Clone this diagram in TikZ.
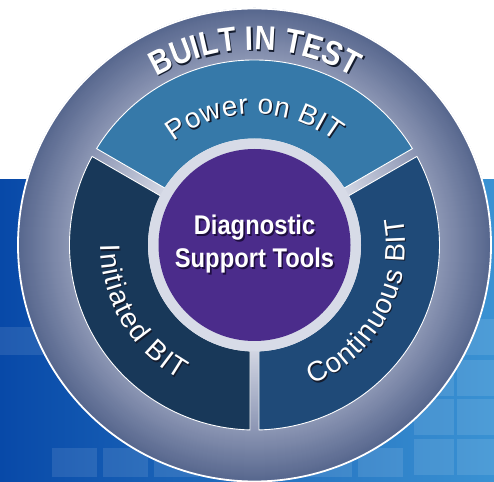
\documentclass[tikz,border=0pt]{standalone}
\usepackage{fontspec}
\setmainfont{Liberation Sans}
\newfontfamily\condsans[FakeStretch=0.86]{Liberation Sans}
\newfontfamily\coresans[FakeStretch=0.88]{Liberation Sans}
\usetikzlibrary{decorations.text}
\definecolor{bgL}{HTML}{0849A8}
\definecolor{bgR}{HTML}{3A92D3}
\definecolor{ringOut}{HTML}{56668D}
\definecolor{ringIn}{HTML}{8C96B4}
\definecolor{lightB}{HTML}{D2D6E3}
\definecolor{lightring}{HTML}{D7DBE7}
\definecolor{topc}{HTML}{3679A9}
\definecolor{leftc}{HTML}{183859}
\definecolor{rightc}{HTML}{1F4A78}
\definecolor{purp}{HTML}{4B2C8B}
\definecolor{txtshadow}{HTML}{141C2E}
\definecolor{coreshadow}{HTML}{1E0E40}
\newcommand\ringlabel[6]{%
  \path[decorate,decoration={text along path,text={|#4|#5},text align=fit to path,text color=txtshadow}]
    ([shift={(#6,-#6)}]#2:#1) arc[start angle=#2,end angle=#3,radius=#1pt];
  \path[decorate,decoration={text along path,text={|#4|#5},text align=fit to path,text color=white}]
    (#2:#1) arc[start angle=#2,end angle=#3,radius=#1pt];
}
\tikzset{
  coretext/.style={font=\coresans\bfseries\fontsize{27}{27}\selectfont,anchor=base,inner sep=0pt},
  cell/.style={fill=white,opacity=0.1},
  sectorbox/.style={draw=white,line width=0.9pt}
}
\begin{document}
\begin{tikzpicture}[x=1pt,y=1pt]
\useasboundingbox (0,0) rectangle (494,481);
\fill[white] (0,0) rectangle (494,481);
\shade[left color=bgL,right color=bgR] (0,0) rectangle (494,301);
% background grid cells
\foreach \x in {414,457} \foreach \y in {6,46,85,126} \fill[cell] (\x,\y) rectangle ++(40,36);
\foreach \x in {52,103,154,205,256,307,358} \fill[cell] (\x,4) rectangle ++(45,29);
\fill[cell] (0,126) rectangle (43,154);
\begin{scope}[shift={(254.5,236)}]
  % outer ring shading
  \foreach \r in {237,236,...,186} {\pgfmathtruncatemacro\p{(\r-185)*100/52}\fill[ringOut!\p!ringIn] (0,0) circle[radius=\r pt];}
  \foreach \r in {185,184,...,107} {\pgfmathtruncatemacro\p{(\r-106)*100/79}\fill[ringIn!\p!lightB] (0,0) circle[radius=\r pt];}
  \draw[white,line width=1.8pt] (0,0) circle[radius=236.5pt];
  % sectors
  \foreach \a/\c in {30/topc,150/leftc,270/rightc} {
    \filldraw[sectorbox,fill=\c] ({\a+1.394}:185) arc[start angle={\a+1.394},end angle={\a+118.606},radius=185pt]
      -- ({\a+117.59}:106) arc[start angle={\a+117.59},end angle={\a+2.41},radius=106pt] -- cycle;
  }
  % centre
  \fill[lightring] (0,0) circle[radius=106.5pt];
  \fill[purp] (0,0) circle[radius=96pt];
  % curved labels
  \ringlabel{195}{120.2}{60.4}{\condsans\bfseries\fontsize{34}{34}\selectfont}{BUILT IN TEST}{1.5}
  \ringlabel{131}{128}{52}{\fontsize{28}{28}\selectfont}{Power on BIT}{1.2}
  \ringlabel{154}{180}{241}{\fontsize{28}{28}\selectfont}{Initiated BIT}{1.2}
  \ringlabel{151}{-67.5}{10.5}{\fontsize{28}{28}\selectfont}{Continuous BIT}{1.2}
  % centre text
  \node[coretext,text=coreshadow] (d1s) at (1.6,8.4) {Diagnostic};
  \node[coretext,text=coreshadow] (d2s) at (1.6,-24.6) {Support Tools};
  \node[coretext,text=white] (d1) at (0,10) {Diagnostic};
  \node[coretext,text=white] (d2) at (0,-23) {Support Tools};
\end{scope}
\end{tikzpicture}
\end{document}
